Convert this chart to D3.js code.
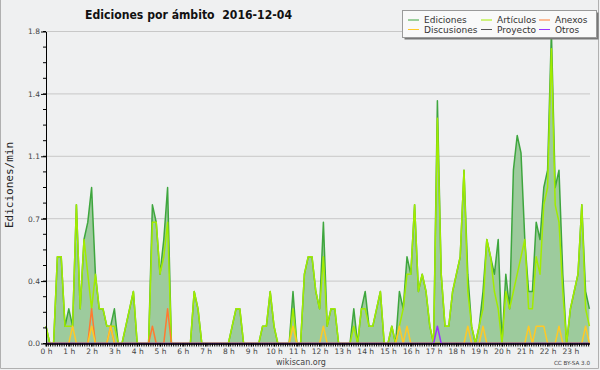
<!DOCTYPE html>
<html><head><meta charset="utf-8">
<script src="https://cdn.jsdelivr.net/npm/d3@7"></script>
<style>html,body{margin:0;padding:0;background:#eff0f1;}svg{display:block;}</style>
</head><body>
<svg id="chart" width="600" height="370"></svg>
<script>
// ---------- DATA (edits per minute, one value per 10-minute slot, 6 slots per hour) ----------
const chartTitle = "Ediciones por ámbito  2016-12-04";
const yTitle = "Ediciones/min";
const slotMinutes = 10;
const hourLabels = ["0 h","1 h","2 h","3 h","4 h","5 h","6 h","7 h","8 h","9 h","10 h","11 h",
  "12 h","13 h","14 h","15 h","16 h","17 h","18 h","19 h","20 h","21 h","22 h","23 h"];
const yTickValues = [0, 0.36, 0.72, 1.08, 1.44, 1.8];

const ediciones = [
  0.1,0,0,0.5,0.5,0.1,   0.2,0.1,0.8,0.2,0.6,0.7,   0.9,0.4,0.2,0.2,0.1,0.1,   0.2,0,0,0.1,0.2,0.3,
  0,0,0,0,0.8,0.7,       0.4,0.6,0.9,0,0,0,         0,0,0,0.3,0.2,0,           0,0,0,0,0,0,
  0,0.1,0.2,0.2,0,0,     0,0,0,0.1,0.1,0.3,         0.1,0,0,0,0,0.3,           0,0,0.4,0.5,0.5,0.3,
  0.2,0.7,0.1,0.2,0.2,0, 0,0,0,0.2,0,0.2,           0.3,0.1,0.1,0.2,0.3,0,     0,0.1,0,0.3,0.2,0.5,
  0.4,0.8,0.3,0.4,0.3,0.1, 0,1.4,0.4,0.1,0.1,0.3,   0.4,0.5,1.0,0.4,0.1,0,     0.1,0.3,0.6,0.5,0.4,0.6,
  0,0.4,0.2,1.0,1.2,1.1, 0.6,0.3,0.3,0.7,0.6,0.9,   1.0,1.8,0.9,1.0,0.4,0,     0.2,0.3,0.4,0.8,0.3,0.2
];
const articulos = [
  0.1,0,0,0.5,0.5,0.1,   0.1,0.1,0.8,0.2,0.6,0.4,   0.2,0.4,0.2,0.2,0.1,0.1,   0.1,0,0,0.1,0.2,0.3,
  0,0,0,0,0.7,0.7,       0.4,0.5,0.7,0,0,0,         0,0,0,0.3,0.2,0,           0,0,0,0,0,0,
  0,0.1,0.2,0.2,0,0,     0,0,0,0.1,0.1,0.3,         0.1,0,0,0,0,0.2,           0,0,0.4,0.5,0.5,0.3,
  0.2,0.5,0.1,0.2,0.2,0, 0,0,0,0.1,0,0.2,           0.2,0.1,0.1,0.2,0.3,0,     0,0.1,0,0.1,0.2,0.4,
  0.4,0.8,0.3,0.4,0.3,0.1, 0,1.3,0.4,0.1,0.1,0.3,   0.4,0.5,1.0,0.3,0.1,0,     0.1,0.2,0.6,0.5,0.3,0.2,
  0,0.3,0.2,0.3,0.4,0.5, 0.6,0.2,0.2,0.5,0.4,0.8,   0.9,1.7,0.8,0.7,0.3,0,     0.2,0.3,0.4,0.8,0.2,0.1
];
const anexos = [
  0,0,0,0,0,0,  0,0,0,0,0,0,  0.2,0,0,0,0,0.1,  0,0,0,0,0,0,
  0,0,0,0,0.1,0,  0,0,0.2,0,0,0,  0,0,0,0,0,0,  0,0,0,0,0,0,
  0,0,0,0,0,0,  0,0,0,0,0,0,  0,0,0,0,0,0,  0,0,0,0,0,0,
  0,0,0,0,0,0,  0,0,0,0,0,0,  0,0,0,0,0,0,  0,0,0,0,0,0,
  0,0,0,0,0,0,  0,0,0,0,0,0,  0,0,0,0,0,0,  0,0,0,0,0,0,
  0,0,0,0,0,0,  0,0,0,0,0,0,  0,0,0,0,0,0,  0,0,0,0,0,0
];
const discusiones = [
  0,0,0,0,0,0,  0,0.1,0,0,0,0,  0.1,0,0,0,0,0.1,  0,0,0,0,0,0,
  0,0,0,0,0,0,  0,0,0,0,0,0,  0,0,0,0,0,0,  0,0,0,0,0,0,
  0,0,0,0,0,0,  0,0,0,0,0,0,  0,0,0,0,0,0.1,  0,0,0,0,0,0,
  0,0.1,0,0,0,0,  0,0,0,0,0,0,  0,0,0,0,0,0,  0,0,0,0.1,0,0.1,
  0,0,0,0,0,0,  0,0,0,0,0,0,  0,0,0,0.1,0,0,  0,0.1,0,0,0,0,
  0,0,0,0,0,0,  0,0.1,0,0.1,0.1,0.1,  0,0,0,0.1,0,0,  0,0,0,0,0.1,0
];
const proyecto = [
  0,0,0,0,0,0,  0,0,0,0,0,0,  0,0,0,0,0,0,  0,0,0,0,0,0,
  0,0,0,0,0,0,  0,0,0,0,0,0,  0,0,0,0,0,0,  0,0,0,0,0,0,
  0,0,0,0,0,0,  0,0,0,0,0,0,  0,0,0,0,0,0,  0,0,0,0,0,0,
  0,0,0,0,0,0,  0,0,0,0,0,0,  0,0,0,0,0,0,  0,0,0,0,0,0,
  0,0,0,0,0,0,  0,0,0,0,0,0,  0,0,0,0,0,0,  0,0,0,0,0,0,
  0,0,0,0,0,0,  0,0,0,0,0,0,  0,0,0,0,0,0,  0,0,0,0,0,0
];
const otros = [
  0,0,0,0,0,0,  0,0,0,0,0,0,  0,0,0,0,0,0,  0,0,0,0,0,0,
  0,0,0,0,0,0,  0,0,0,0,0,0,  0,0,0,0,0,0,  0,0,0,0,0,0,
  0,0,0,0,0,0,  0,0,0,0,0,0,  0,0,0,0,0,0,  0,0,0,0,0,0,
  0,0,0,0,0,0,  0,0,0,0,0,0,  0,0,0,0,0,0,  0,0,0,0,0,0,
  0,0,0,0,0,0,  0,0,0,0,0,0,  0,0,0,0,0,0,  0,0,0,0,0,0,
  0,0,0,0,0,0,  0,0,0,0,0,0,  0,0,0,0,0,0,  0,0,0,0,0,0
];
otros[103] = 0.1;

const seriesNames = ["Ediciones","Artículos","Anexos","Discusiones","Proyecto","Otros"];
const seriesValues = [ediciones, articulos, anexos, discusiones, proyecto, otros];
const seriesColors = ["#3ea63e","#a2ec00","#ff7a30","#ffc926","#555555","#9933ff"];

// ---------- CHART ----------
const svg = d3.select("#chart");
const font = "'DejaVu Sans', sans-serif";
svg.append("rect").attr("width",600).attr("height",370).attr("fill","#eff0f1");
svg.append("path").attr("d","M0.5,0 V368.5 H598.5 V0").attr("fill","none").attr("stroke","#b0b0b0").attr("stroke-width",1);

const lastMinute = (ediciones.length - 1) * slotMinutes;
const x = d3.scaleLinear().domain([0, lastMinute]).range([46, 589.4]);
const y = d3.scaleLinear().domain([0, 1.8]).range([343.5, 31.5]);

// grid
svg.append("g").selectAll("line").data(yTickValues.filter(v => v > 0)).join("line")
  .attr("x1", 46).attr("x2", 590).attr("y1", d => y(d)).attr("y2", d => y(d))
  .attr("stroke", "#c8c8c8").attr("stroke-width", 1);

const toPts = vals => vals.map((v, i) => ({t: i * slotMinutes, v}));

// area under total
svg.append("path").datum(toPts(ediciones))
  .attr("fill", "#9dcb9d")
  .attr("d", d3.area().x(d => x(d.t)).y0(y(0)).y1(d => y(d.v)));

const line = d3.line().x(d => x(d.t)).y(d => y(d.v));
const drawOrder = [0, 1, 2, 3, 4, 5];
drawOrder.forEach(i => {
  svg.append("path").datum(toPts(seriesValues[i]))
    .attr("fill", "none").attr("stroke", seriesColors[i])
    .attr("stroke-width", 1.5).attr("stroke-linejoin", "round")
    .attr("d", line);
});

// y axis
const yAxis = d3.axisLeft(y).tickValues(yTickValues).tickFormat(d3.format(".1f")).tickSize(5).tickSizeOuter(0);
const gy = svg.append("g").attr("transform", "translate(46,0)").call(yAxis);
gy.select(".domain").attr("stroke", "#000");
gy.selectAll(".tick line").attr("stroke", "#000");
gy.selectAll(".tick text").attr("font-family", font).attr("font-size", 7.5).attr("fill", "#444").attr("x", -6);
const yMinor = d3.range(0, 1.8001, 0.09);
svg.append("g").selectAll("line").data(yMinor).join("line")
  .attr("x1", 43).attr("x2", 46).attr("y1", d => y(d)).attr("y2", d => y(d))
  .attr("stroke", "#000");

// x axis
const hourMinutes = hourLabels.map((_, h) => h * 60);
const xAxis = d3.axisBottom(x).tickValues(hourMinutes).tickFormat((d, i) => hourLabels[i]).tickSize(3).tickSizeOuter(0);
const gx = svg.append("g").attr("transform", "translate(0,343.5)").call(xAxis);
gx.select(".domain").attr("stroke", "#000").attr("stroke-width", 1.5);
gx.selectAll(".tick line").attr("stroke", "#000");
gx.selectAll(".tick text").attr("font-family", font).attr("font-size", 7.5).attr("fill", "#444").attr("dy", "0.6em");
const xMinor = d3.range(0, lastMinute + 0.1, 6);
svg.append("g").selectAll("line").data(xMinor).join("line")
  .attr("x1", d => x(d)).attr("x2", d => x(d)).attr("y1", 343.5).attr("y2", 346.5)
  .attr("stroke", "#000");

// y title
svg.append("text").attr("transform", "translate(13,185) rotate(-90)")
  .attr("text-anchor", "middle").attr("font-family", "'DejaVu Sans Mono', monospace")
  .attr("font-size", 11).attr("fill", "#222").text(yTitle);

// title
svg.append("text").attr("x", 85).attr("y", 18.5)
  .attr("font-family", font).attr("font-weight", "bold").attr("font-size", 13)
  .attr("textLength", 207).attr("lengthAdjust", "spacingAndGlyphs")
  .style("white-space", "pre").attr("fill", "#111").text(chartTitle);

// footer
svg.append("text").attr("x", 301).attr("y", 364.5).attr("text-anchor", "middle")
  .attr("font-family", font).attr("font-size", 8).attr("fill", "#444").text("wikiscan.org");
svg.append("text").attr("x", 590).attr("y", 365).attr("text-anchor", "end")
  .attr("font-family", font).attr("font-size", 5.6).attr("fill", "#444").text("CC BY-SA 3.0");

// legend
const lg = svg.append("g");
lg.append("rect").attr("x", 404.5).attr("y", 12.5).attr("width", 194).attr("height", 27).attr("fill", "#777");
lg.append("rect").attr("x", 402.5).attr("y", 10.5).attr("width", 194).attr("height", 27)
  .attr("fill", "#f9f9f9").attr("stroke", "#9a9a9a");
const legPos = [[408, 20], [481, 20], [539, 20], [408, 29.5], [481, 29.5], [539, 29.5]];
seriesNames.forEach((name, i) => {
  const [lx, ly] = legPos[i];
  lg.append("line").attr("x1", lx).attr("x2", lx + 11).attr("y1", ly).attr("y2", ly)
    .attr("stroke", seriesColors[i]).attr("stroke-width", 1);
  lg.append("text").attr("x", lx + 16).attr("y", ly + 3.2)
    .attr("font-family", font).attr("font-size", 9).attr("fill", "#333").text(name);
});
</script>
</body></html>
